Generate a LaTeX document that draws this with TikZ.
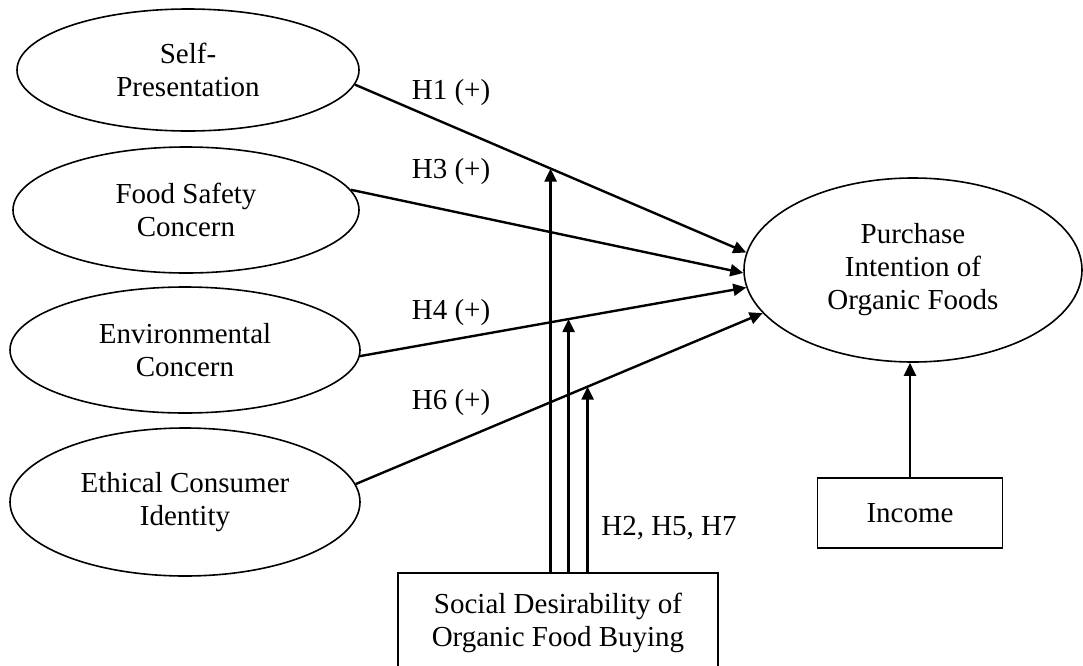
\documentclass[tikz,border=0pt]{standalone}
\usepackage{fontspec}
\setmainfont{Liberation Serif}
\usetikzlibrary{shapes.geometric,arrows.meta}
\begin{document}
\begin{tikzpicture}[x=0.5pt,y=-0.5pt,
    font=\fontsize{14.5}{16.5}\selectfont,
    >={Triangle[length=6.5pt,width=6pt]},
    construct/.style={ellipse,draw,line width=0.8pt,inner sep=0pt,align=center},
    observed/.style={rectangle,draw,line width=0.8pt,inner sep=0pt,align=center},
    path/.style={line width=1.2pt,->}]
                \useasboundingbox (0,0) rectangle (1083,665);
                \node[construct,minimum width=171pt,minimum height=61pt] (sp) at (188,70) {Self-\\Presentation};
                \node[construct,minimum width=173pt,minimum height=63pt] (fsc) at (186,210) {Food Safety\\Concern};
                \node[construct,minimum width=175pt,minimum height=63pt] (ec) at (185,350) {Environmental\\Concern};
                \node[construct,minimum width=175pt,minimum height=74pt] (eci) at (185,502) {Ethical Consumer\\Identity};
                \node[construct,minimum width=169pt,minimum height=92pt] (pi) at (913,270) {Purchase\\Intention of\\Organic Foods};
                \node[observed,minimum width=92.5pt,minimum height=35pt] (inc) at (910,513) {Income};
                \node[observed,minimum width=160pt,minimum height=50pt] (sd) at (558,623) {Social Desirability of\\Organic Food Buying};
                % hypotheses
                \draw[path] (sp.-5) -- coordinate[pos=0.5] (m1) (pi.174.6);
                \draw[path] (fsc.7.5) -- (pi.181);
                \draw[path] (ec.-2.3) -- coordinate[pos=0.54] (m2) (pi.186.9);
                \draw[path] (eci.6.3) -- coordinate[pos=0.57] (m3) (pi.196);
                \draw[path] (inc) -- (inc |- pi.south);
                % moderation
                \draw[path] (sd.north -| m1) -- (m1);
                \draw[path] (sd.north -| m2) -- (m2);
                \draw[path] (sd.north -| m3) -- (m3);
                \node (h1) at (451,93) {H1 (+)};
                \node (h3) at (451,172) {H3 (+)};
                \node (h4) at (451,313) {H4 (+)};
                \node (h6) at (451,403) {H6 (+)};
                \node (h257) at (669,528) {H2, H5, H7};
\end{tikzpicture}
\end{document}
